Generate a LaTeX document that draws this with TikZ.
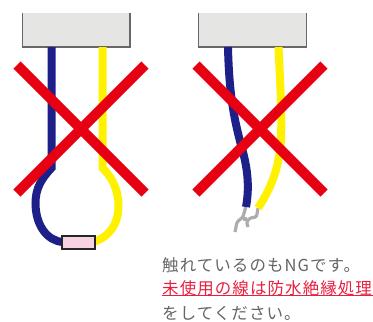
\documentclass[tikz,border=0pt]{standalone}
\usepackage{fontspec}
\newfontfamily\cjk{Noto Sans CJK JP}[LetterSpace=6.5]
\definecolor{wblue}{HTML}{1D2088}
\definecolor{wyellow}{HTML}{FFF100}
\definecolor{xred}{HTML}{E60012}
\definecolor{boxgray}{HTML}{E5E5E4}
\definecolor{boxline}{HTML}{6A6566}
\definecolor{txtgray}{HTML}{666464}
\definecolor{txtred}{HTML}{E8203F}
\definecolor{sleevepink}{HTML}{F7D2E2}
\tikzset{
  wire/.style={line width=8pt,line cap=butt},
  bluewire/.style={wire,draw=wblue},
  yellowwire/.style={wire,draw=wyellow},
  cross/.style={draw=xred,line width=10pt},
  strand/.style={draw=black!32,line width=3.2pt,line join=round,rounded corners=1.5pt},
  unitbox/.style={fill=boxgray},
  unitedge/.style={draw=boxline,line width=1.2pt},
  label/.style={anchor=west,inner sep=0pt,font=\cjk\fontsize{16.5}{16.5}\selectfont},
}
\begin{document}
\begin{tikzpicture}[x=1pt,y=-1pt]
\useasboundingbox (0,0) rectangle (373,322);
% left unit
\fill[unitbox] (22.5,13) rectangle (130,47);
\draw[unitedge] (22.5,13) -- (22.5,47) -- (130,47) -- (130,13);
\draw[bluewire] (51.5,47) -- (51.5,168) .. controls (42,178) and (35.5,188) .. (35.5,203) .. controls (35.5,225) and (47,241) .. (63,242);
\draw[yellowwire] (102.5,47) -- (102.5,168) .. controls (112,177) and (118.5,190) .. (118.5,206) .. controls (118.5,225) and (108,238) .. (93,242);
\node[draw=black!85,line width=2pt,fill=sleevepink,minimum width=33pt,minimum height=13pt,inner sep=0pt] (sleeve) at (78,242) {};
\draw[cross] (17,65) -- (145,193);
\draw[cross] (145,65) -- (17,193);
% right unit
\fill[unitbox] (198.5,13) rectangle (306.5,47);
\draw[unitedge] (198.5,13) -- (198.5,47) -- (306.5,47) -- (306.5,13);
\draw[strand] (245.7,207) -- (243,217) -- (237,222) -- (235,232);
\draw[strand] (258,208) -- (256.5,217) -- (250,218) -- (246.5,222) -- (248,227);
\draw[strand] (247,219) -- (243,219);
\draw[bluewire] (228,47) .. controls (229,90) and (233,115) .. (241,145) .. controls (247,165) and (250,185) .. (246,207);
\draw[yellowwire] (278.5,47) .. controls (280,80) and (282,110) .. (281,140) .. controls (279,170) and (270,190) .. (258,208);
\draw[cross] (196,65) -- (324,193);
\draw[cross] (324,65) -- (196,193);
% text
\node[label,text=txtgray] (l1) at (162,265) {触れているのもNGです。};
\node[label,text=txtred] (l2) at (162,288) {未使用の線は防水絶縁処理};
\node[label,text=txtgray] (l3) at (162,313) {をしてください。};
\draw[txtred,line width=1pt] (162,295.5) -- (373,295.5);
\end{tikzpicture}
\end{document}
